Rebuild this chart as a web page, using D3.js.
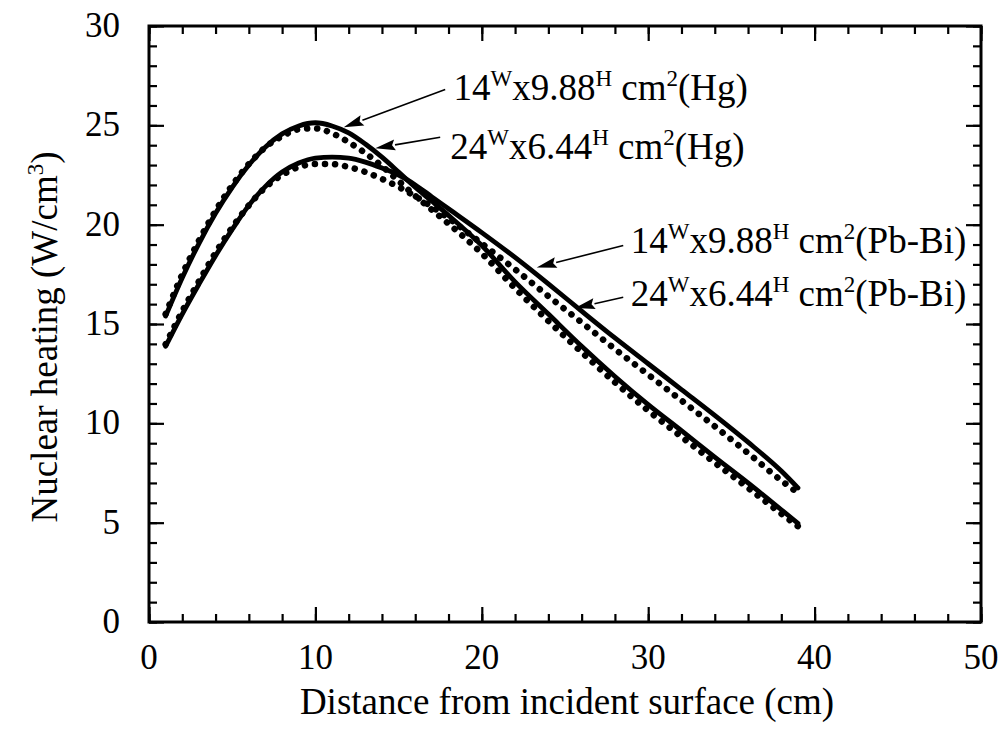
<!DOCTYPE html>
<html>
<head>
<meta charset="utf-8">
<style>
  * { margin:0; padding:0 }
  body { background:#fff; overflow:hidden; }
  svg text { font-family: "Liberation Serif", "Times New Roman", serif; fill:#000; }
</style>
<script src="https://cdn.jsdelivr.net/npm/d3@7"></script>
</head>
<body>
<script>
// distance from incident surface (cm)
var xs = [1,2,3,4,5,6,7,8,9,10,11,12,13,14,15,16,17,18,20,22,24,26,28,30,32,34,36,38,39];

// nuclear heating (W/cm3)
var hg14 = [15.4,17.33,19.05,20.57,21.88,23.0,23.91,24.57,24.97,25.13,24.97,24.62,24.06,23.4,22.65,21.88,21.18,20.47,18.95,17.12,15.5,13.88,12.36,10.94,9.63,8.3,7.0,5.65,4.97];
var hg24 = [15.5,17.5,19.2,20.7,21.98,23.05,23.9,24.45,24.8,24.85,24.6,24.15,23.6,22.95,22.2,21.45,20.75,20.05,18.55,16.8,15.15,13.58,12.06,10.64,9.32,8.02,6.75,5.45,4.82];
var pb14 = [13.88,15.5,17.0,18.44,19.76,20.97,21.93,22.65,23.1,23.35,23.4,23.35,23.15,22.85,22.5,22.0,21.4,20.8,19.6,18.35,17.02,15.65,14.3,13.0,11.7,10.4,9.05,7.6,6.75];
var pb24 = [13.98,15.65,17.15,18.59,19.86,20.97,21.88,22.5,22.9,23.05,23.05,22.9,22.65,22.3,21.9,21.43,20.9,20.32,19.05,17.75,16.4,15.08,13.74,12.45,11.15,9.85,8.5,7.12,6.5];

var xTicks = [0,10,20,30,40,50];
var yTicks = [0,5,10,15,20,25,30];

// label parts: [main, sup, main, sup, main, sup, main]
var labels = [
  ["14","W","x9.88","H"," cm","2","(Hg)"],
  ["24","W","x6.44","H"," cm","2","(Hg)"],
  ["14","W","x9.88","H"," cm","2","(Pb-Bi)"],
  ["24","W","x6.44","H"," cm","2","(Pb-Bi)"]
];
// arrow tail / tip and text start, in data units
var arrows = [
  {tail:[17.8,26.8], tip:[11.7,24.9], text:[18.3,26.3]},
  {tail:[17.5,24.4], tip:[13.6,23.85], text:[18.1,23.3]},
  {tail:[28.5,18.95], tip:[23.3,17.85], text:[28.95,18.55]},
  {tail:[28.5,16.35], tip:[25.6,15.8], text:[28.95,15.9]}
];

var width = 1005, height = 735;
var mLeft = 149, mRight = 981, mTop = 26, mBottom = 622;

var svg = d3.select("body").append("svg")
  .attr("width", width)
  .attr("height", height);

var x = d3.scaleLinear().domain([0,50]).range([mLeft,mRight]);
var y = d3.scaleLinear().domain([0,30]).range([mBottom,mTop]);

// ticks: minor then major, all pointing inward
function ticks(axis, pos, vals, size) {
  svg.append("g")
    .attr("transform", pos)
    .call(axis.tickValues(vals).tickSize(size).tickFormat(""))
    .call(function(g) {
      g.select(".domain").remove();
      g.selectAll("line").attr("stroke","#000").attr("stroke-width",2.2);
    });
}
ticks(d3.axisBottom(x), "translate(0," + mBottom + ")", d3.range(0,51,2), -8);
ticks(d3.axisBottom(x), "translate(0," + mBottom + ")", xTicks, -15);
ticks(d3.axisTop(x), "translate(0," + mTop + ")", d3.range(0,51,2), -8);
ticks(d3.axisTop(x), "translate(0," + mTop + ")", xTicks, -15);
ticks(d3.axisLeft(y), "translate(" + mLeft + ",0)", d3.range(0,31,1), -8);
ticks(d3.axisLeft(y), "translate(" + mLeft + ",0)", yTicks, -15);
ticks(d3.axisRight(y), "translate(" + mRight + ",0)", d3.range(0,31,1), -8);
ticks(d3.axisRight(y), "translate(" + mRight + ",0)", yTicks, -15);

svg.append("rect")
  .attr("x", mLeft).attr("y", mTop)
  .attr("width", mRight-mLeft).attr("height", mBottom-mTop)
  .attr("fill","none").attr("stroke","#000").attr("stroke-width",3);

// tick labels
svg.selectAll(".xl").data(xTicks).enter().append("text")
  .attr("x", function(d) { return x(d); })
  .attr("y", 669)
  .attr("text-anchor","middle")
  .attr("font-size", 35)
  .text(function(d) { return d; });

svg.selectAll(".yl").data(yTicks).enter().append("text")
  .attr("x", 120)
  .attr("y", function(d) { return y(d) + 11; })
  .attr("text-anchor","end")
  .attr("font-size", 35)
  .text(function(d) { return d; });

// axis titles
svg.append("text")
  .attr("x", (mLeft+mRight)/2 + 2).attr("y", 714)
  .attr("text-anchor","middle").attr("font-size", 37)
  .text("Distance from incident surface (cm)");

var yt = svg.append("text")
  .attr("transform","translate(57,337) rotate(-90)")
  .attr("text-anchor","middle").attr("font-size", 37);
yt.append("tspan").text("Nuclear heating (W/cm");
yt.append("tspan").attr("font-size",23).attr("dy",-14).text("3");
yt.append("tspan").attr("dy",14).text(")");

// curves
var line = d3.line()
  .x(function(d, i) { return x(xs[i]); })
  .y(function(d) { return y(d); })
  .curve(d3.curveMonotoneX);

[hg14, pb14].forEach(function(s) {
  svg.append("path").datum(s).attr("d", line)
    .attr("fill","none").attr("stroke","#000").attr("stroke-width",4.8)
    .attr("stroke-linecap","round");
});
[hg24, pb24].forEach(function(s) {
  svg.append("path").datum(s).attr("d", line)
    .attr("fill","none").attr("stroke","#000").attr("stroke-width",6.5)
    .attr("stroke-linecap","round").attr("stroke-dasharray","0.1,10");
});

// annotations
arrows.forEach(function(a, i) {
  var x0 = x(a.tail[0]), y0 = y(a.tail[1]), x1 = x(a.tip[0]), y1 = y(a.tip[1]);
  var ang = Math.atan2(y1-y0, x1-x0);
  var L = 20, W = 5.5;
  var bx = x1 - L*Math.cos(ang), by = y1 - L*Math.sin(ang);
  svg.append("line")
    .attr("x1", x0).attr("y1", y0).attr("x2", bx).attr("y2", by)
    .attr("stroke","#000").attr("stroke-width",1.6);
  svg.append("path")
    .attr("d", "M" + x1 + "," + y1 +
      "L" + (bx - W*Math.sin(ang)) + "," + (by + W*Math.cos(ang)) +
      "L" + (bx + L*0.15*Math.cos(ang)) + "," + (by + L*0.15*Math.sin(ang)) +
      "L" + (bx + W*Math.sin(ang)) + "," + (by - W*Math.cos(ang)) + "Z")
    .attr("fill","#000");

  var t = svg.append("text")
    .attr("x", x(a.text[0])).attr("y", y(a.text[1]))
    .attr("font-size", 37);
  labels[i].forEach(function(p, k) {
    var ts = t.append("tspan").text(p);
    if (k % 2 == 1) ts.attr("font-size", 23).attr("dy", -14);
    else if (k > 0) ts.attr("dy", 14);
  });
});
</script>
</body>
</html>
